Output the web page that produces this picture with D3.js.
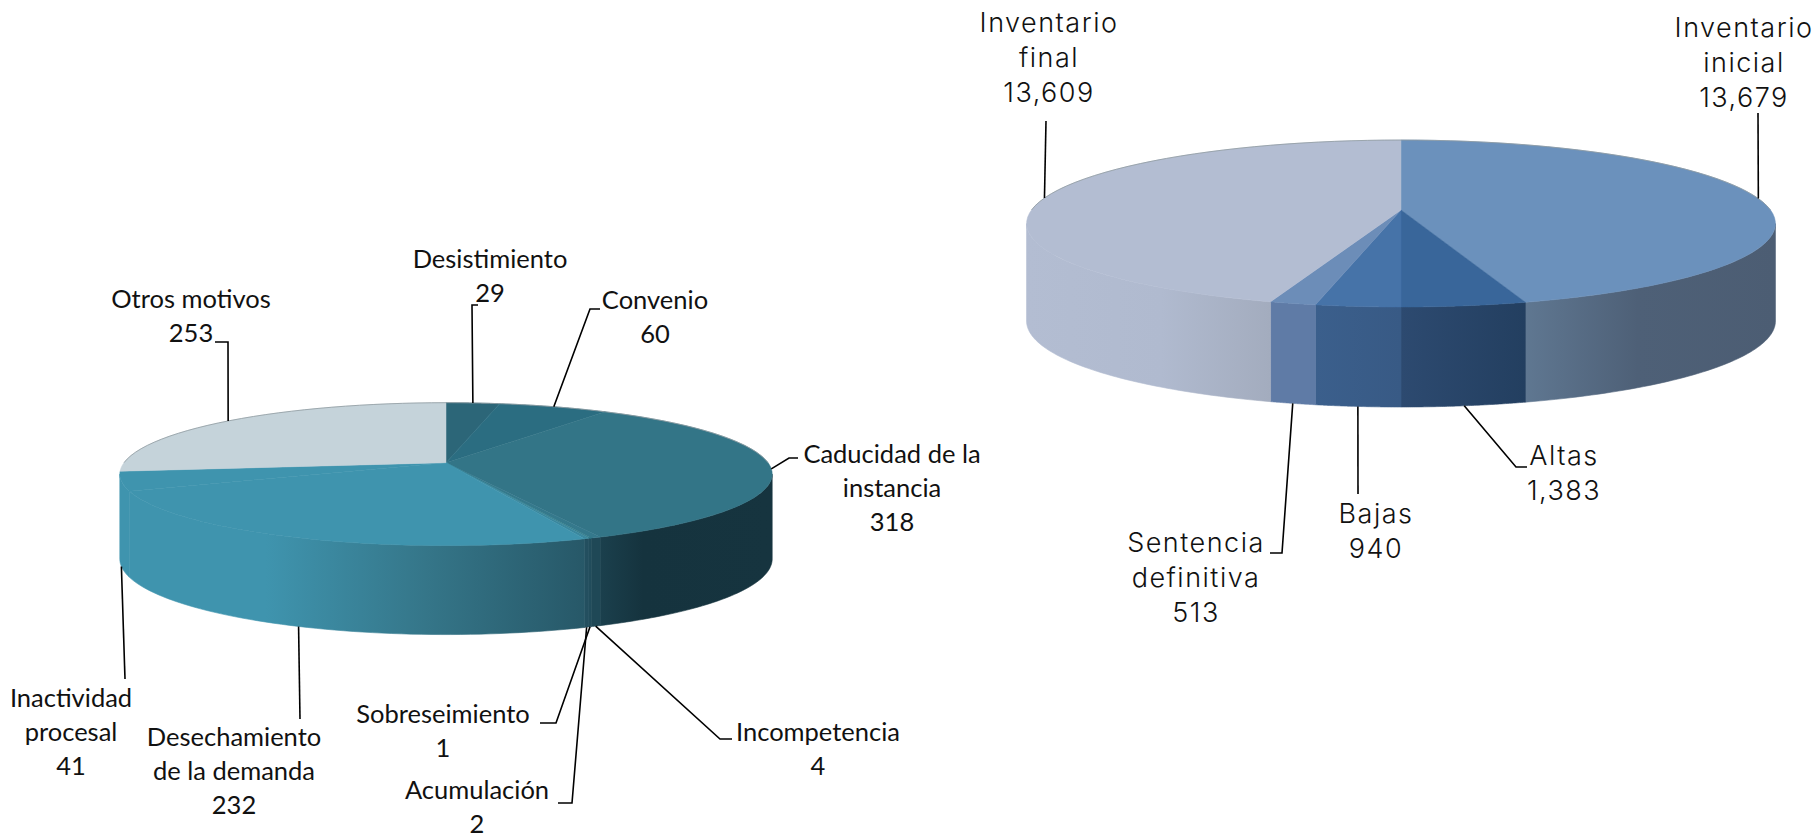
<!DOCTYPE html>
<html lang="en">

<head>
    <meta charset="utf-8">
    <script type="text/javascript" src="https://d3js.org/d3.v7.min.js"></script>
<style>
    html, body { margin: 0; padding: 0; background: #fff; }
    svg { display: block; }
</style>
</head>

<body>
    <div id="container"></div>
</body>

<script>
    // left chart: motivos de baja
    const leftNames = [["Desistimiento"], ["Convenio"], ["Caducidad de la", "instancia"], ["Incompetencia"],
        ["Sobreseimiento"], ["Acumulación"], ["Desechamiento", "de la demanda"], ["Inactividad", "procesal"], ["Otros motivos"]];
    const leftValues = [29, 60, 318, 4, 1, 2, 232, 41, 253];
    const leftTop = ["#2c6678", "#2b6d81", "#337587", "#35798c", "#37808f", "#3a889f", "#3f94ae", "#3f94ae", "#c5d3da"];
    const leftWall = [
        [[0, "#1a3d4a"], [1, "#1a3d4a"]],
        [[0, "#1a3d4a"], [1, "#1a3d4a"]],
        [[0, "#1b404d"], [0.25, "#15333e"], [1, "#16343f"]],
        [[0, "#1f4856"], [1, "#1f4856"]],
        [[0, "#214c5b"], [1, "#214c5b"]],
        [[0, "#234f5f"], [1, "#234f5f"]],
        [[0, "#3f94ae"], [0.3, "#3f94ae"], [0.65, "#357689"], [1, "#275868"]],
        [[0, "#3f94ae"], [1, "#3f94ae"]],
        [[0, "#3f94ae"], [1, "#3f94ae"]]
    ];

    // right chart: inventario
    const rightNames = [["Inventario", "inicial"], ["Altas"], ["Bajas"], ["Sentencia", "definitiva"], ["Inventario", "final"]];
    const rightValues = [13679, 1383, 940, 513, 13609];
    const rightTop = ["#6b91bc", "#39669a", "#4673a8", "#6c8db8", "#b3bdd2"];
    const rightWall = [
        [[0, "#5f7791"], [0.45, "#4e6077"], [1, "#4c5d73"]],
        [[0, "#2d4a70"], [1, "#233f60"]],
        [[0, "#3b5f8c"], [1, "#385a85"]],
        [[0, "#5f7ba6"], [1, "#5f7ba6"]],
        [[0, "#b3bdd2"], [0.55, "#b0bacf"], [1, "#a3acbe"]]
    ];

    // label text centre and leader elbows, one row per slice
    const leftLabels = [
        { x: 490, y: 268, elbow: [[472, 305], [478, 305]] },
        { x: 655, y: 309, elbow: [[590, 309], [600, 309]] },
        { x: 892, y: 463, elbow: [[789, 458], [798, 458]] },
        { x: 818, y: 741, elbow: [[720, 739], [732, 739]] },
        { x: 443, y: 723, elbow: [[556, 723], [540, 723]] },
        { x: 477, y: 799, elbow: [[572, 803], [558, 803]] },
        { x: 234, y: 746, elbow: [[300, 719]] },
        { x: 71, y: 707, elbow: [[125, 679]] },
        { x: 191, y: 308, elbow: [[228, 342], [215, 342]] }
    ];
    const rightLabels = [
        { x: 1744, y: 37, elbow: [[1758, 113]] },
        { x: 1564, y: 465, elbow: [[1516, 467], [1527, 467]] },
        { x: 1376, y: 523, elbow: [[1358, 494]] },
        { x: 1196, y: 552, elbow: [[1282, 553], [1270, 553]] },
        { x: 1049, y: 32, elbow: [[1046, 121]] }
    ];

    const width = 1814, height = 839;

    const svg = d3.select("#container").append("svg")
        .attr("width", width)
        .attr("height", height);
    const defs = svg.append("defs");

    const pathLine = d3.line();
    const pie = d3.pie().sort(null).value(d => d);

    // Draw one tilted pie. k is the perspective, so the hub sits above the ellipse centre
    function pie3d(o) {
        const g = svg.append("g");

        const project = a => {
            const u = Math.sin(a), v = -Math.cos(a), w = 1 - o.k * v;
            return [o.cx + o.a * u / w, o.cy + o.b * v / w];
        };
        const wallDepth = a => {
            const v = -Math.cos(a);
            return o.depthSide + (o.depthFront - o.depthSide) * Math.max(v, 0);
        };
        const arcPoints = (a0, a1) => d3.range(0, 61).map(i => a0 + (a1 - a0) * i / 60);

        const slices = pie(o.values);

        // only the front part of the wall shows, from one side extreme to the other
        const frontStart = Math.acos(-o.k), frontEnd = 2 * Math.PI - frontStart;

        slices.forEach((d, i) => {
            const a0 = Math.max(d.startAngle, frontStart), a1 = Math.min(d.endAngle, frontEnd);
            if (a1 <= a0) return;
            const angles = arcPoints(a0, a1);
            const upper = angles.map(project);
            const lower = angles.map(a => {
                const p = project(a);
                return [p[0], p[1] + wallDepth(a)];
            }).reverse();
            const xs = d3.extent(upper, p => p[0]);
            const id = o.id + "-wall-" + i;
            const grad = defs.append("linearGradient")
                .attr("id", id)
                .attr("gradientUnits", "userSpaceOnUse")
                .attr("x1", xs[0]).attr("x2", xs[1])
                .attr("y1", 0).attr("y2", 0);
            grad.selectAll("stop").data(o.wall[i]).enter().append("stop")
                .attr("offset", s => s[0])
                .attr("stop-color", s => s[1]);
            g.append("path")
                .attr("d", pathLine(upper.concat(lower)) + "Z")
                .attr("fill", "url(#" + id + ")")
                .attr("stroke", "url(#" + id + ")")
                .attr("stroke-width", 0.6);
        });

        slices.forEach((d, i) => {
            const pts = [[o.cx, o.cy]].concat(arcPoints(d.startAngle, d.endAngle).map(project));
            g.append("path")
                .attr("d", pathLine(pts) + "Z")
                .attr("fill", o.top[i])
                .attr("stroke", o.top[i])
                .attr("stroke-width", 0.5);
        });

        // thin grey rim along the back
        g.append("path")
            .attr("d", pathLine(arcPoints(-Math.PI / 2, Math.PI / 2).map(project)))
            .attr("fill", "none")
            .attr("stroke", "#8f9a9f")
            .attr("stroke-width", 0.8);

        // leaders start on the rim at each slice's middle angle
        slices.forEach((d, i) => {
            const mid = (d.startAngle + d.endAngle) / 2;
            const p = project(mid);
            const start = -Math.cos(mid) > 0.15 ? [p[0], p[1] + wallDepth(mid)] : p;
            g.append("path")
                .attr("d", pathLine([start].concat(o.labels[i].elbow)))
                .attr("fill", "none")
                .attr("stroke", "#000")
                .attr("stroke-width", 1.6);
        });

        // labels: name lines then the value
        slices.forEach((d, i) => {
            const lines = o.names[i].concat(o.format(o.values[i]));
            const text = g.append("text")
                .attr("text-anchor", "middle")
                .attr("font-family", o.font)
                .attr("font-size", o.fontSize)
                .attr("font-weight", o.fontWeight)
                .attr("letter-spacing", o.spacing)
                .attr("fill", "#111");
            lines.forEach((t, j) => {
                text.append("tspan")
                    .attr("x", o.labels[i].x)
                    .attr("y", o.labels[i].y + j * o.lineStep)
                    .text(t);
            });
        });
    }

    pie3d({
        id: "left", cx: 446, cy: 462.7, a: 322, b: 69.6, k: 0.16, depthSide: 84, depthFront: 89,
        values: leftValues, names: leftNames, top: leftTop, wall: leftWall, labels: leftLabels,
        format: d3.format(","), font: "Lato", fontSize: 25.5, fontWeight: 400, spacing: 0, lineStep: 34
    });

    pie3d({
        id: "right", cx: 1401, cy: 210, a: 369.5, b: 81.3, k: 0.162, depthSide: 97, depthFront: 100,
        values: rightValues, names: rightNames, top: rightTop, wall: rightWall, labels: rightLabels,
        format: d3.format(","), font: "Inter", fontSize: 27, fontWeight: 300, spacing: 1.5, lineStep: 35
    });
</script>
</html>
